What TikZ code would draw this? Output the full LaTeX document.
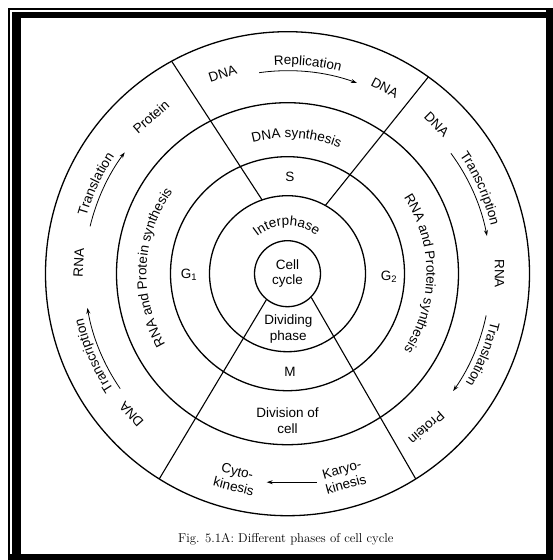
\documentclass[tikz,border=0pt]{standalone}
\usepackage{fontspec}
\setsansfont{Liberation Sans}
\usetikzlibrary{arrows.meta, decorations.text}

\newcommand{\lblfont}{\sffamily\fontsize{13.5}{15.5}\selectfont}

\begin{document}
\begin{tikzpicture}[x=1pt, y=1pt,
    ring/.style={line width=1.3pt},
    divider/.style={line width=1.1pt},
    lbl/.style={font=\lblfont, align=center, inner sep=0pt},
    flow/.style={line width=0.8pt, -{Stealth[length=6pt,width=4pt]}},
    arctext/.style={decorate, decoration={text along path, text align=center, text={|\lblfont|#1}}}
  ]
    \begin{scope}[shift={(-287.5,273.7)}, yscale=-1]
      \useasboundingbox (0,0) rectangle (553,560);
      \fill (8,8) rectangle (553,10);
      \fill (8,8) rectangle (10,560);
      \fill (12,12) rectangle (553,18);
      \fill (12,12) rectangle (21,560);
      \fill (546,8) rectangle (553,560);
      \fill (8,554) rectangle (553,560);
    \end{scope}

    \foreach \r in {78,117,171,242}
      \draw[ring] (0,0) circle[radius=\r];
    \node[lbl, draw, circle, ring, minimum size=66pt] (cell) at (0,0) {Cell\\cycle};

    \draw[divider] (109:78) -- (118.6:242);
    \draw[divider] (61:78) -- (54.4:242);
    \draw[divider] (cell.231) -- (238:242);
    \draw[divider] (cell.-45.5) -- (-58:242);

    \node[lbl, rotate=18] (dna-top) at (108:210) {DNA};
    \node[lbl, rotate=-27.6] (dna-rep) at (62.4:210) {DNA};
    \node[lbl, rotate=-45] (dna-right) at (45:211) {DNA};
    \node[lbl, rotate=-90] (rna-right) at (0:212) {RNA};
    \node[lbl, rotate=-138] (prot-right) at (-48:208) {Protein};
    \node[lbl, rotate=132] (dna-left) at (222:210) {DNA};
    \node[lbl, rotate=87] (rna-left) at (177:209) {RNA};
    \node[lbl, rotate=41] (prot-left) at (131:208) {Protein};

    \path[arctext={Replication}] (124.5:209) arc[start angle=124.5, end angle=44.5, radius=209];
    \path[arctext={Transcription}] (63.9:209) arc[start angle=63.9, end angle=-16.1, radius=209];
    \path[arctext={Translation}] (17.6:209) arc[start angle=17.6, end angle=-62.4, radius=209];
    \path[arctext={Transcription}] (243:209) arc[start angle=243, end angle=163, radius=209];
    \path[arctext={Translation}] (195:209) arc[start angle=195, end angle=115, radius=209];

    \coordinate (rep-s) at (98:203);
    \coordinate (tsr-s) at (36.4:203);
    \coordinate (tlr-s) at (-11.9:203);
    \coordinate (tsl-s) at (214.5:203);
    \coordinate (tll-s) at (166.5:203);
    \draw[flow] (rep-s) arc[start angle=98, end angle=70, radius=203];
    \draw[flow] (tsr-s) arc[start angle=36.4, end angle=10.7, radius=203];
    \draw[flow] (tlr-s) arc[start angle=-11.9, end angle=-35.3, radius=203];
    \draw[flow] (tsl-s) arc[start angle=214.5, end angle=189.7, radius=203];
    \draw[flow] (tll-s) arc[start angle=166.5, end angle=143.3, radius=203];

    \node[lbl, rotate=15.5] (karyo) at (-74.5:211) {Karyo-\\kinesis};
    \node[lbl, rotate=-14.2] (cyto) at (255.8:211.7) {Cyto-\\kinesis};
    \coordinate (kin-s) at (29.2,-208.5);
    \coordinate (kin-e) at (-20.8,-208.5);
    \draw[flow] (kin-s) -- (kin-e);

    \path[arctext={DNA synthesis}] (136.2:136) arc[start angle=136.2, end angle=36.2, radius=136];
    \path[arctext={RNA and Protein synthesis}] (257.3:141) arc[start angle=257.3, end angle=97.3, radius=141];
    \path[arctext={RNA and Protein synthesis}] (80:139) arc[start angle=80, end angle=-80, radius=139];
    \node[lbl] (division) at (0,-147) {Division of\\cell};

    \node[lbl] (s-phase) at (2.5,97) {S};
    \node[lbl] (m-phase) at (2.5,-98.6) {M};
    \node[lbl] (g1) at (180.8:98.5) {G\textsubscript{1}};
    \node[lbl] (g2) at (-1.7:101.5) {G\textsubscript{2}};

    \path[arctext={Interphase}] (158:48) arc[start angle=158, end angle=24, radius=48];
    \node[lbl] (dividing) at (0.8,-55.3) {Dividing\\phase};

    \node[font=\fontsize{12.8}{14}\selectfont, inner sep=0pt] (caption) at (-1.7,-265.3) {Fig. 5.1A: Different phases of cell cycle};
  \end{tikzpicture}
\end{document}
